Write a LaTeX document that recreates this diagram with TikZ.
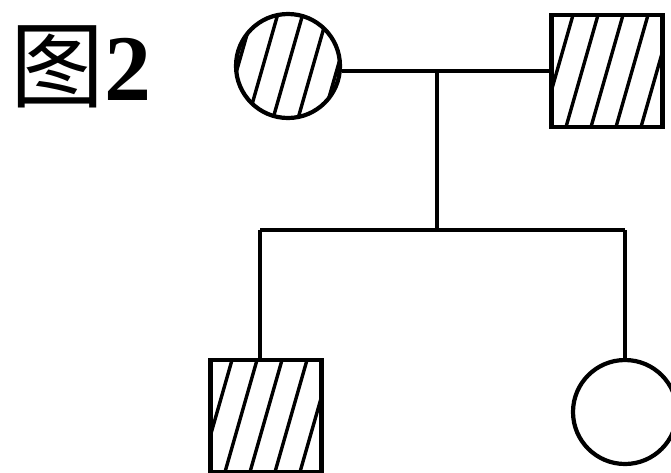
\documentclass[tikz,border=0pt]{standalone}
\usepackage{fontspec}
\setmainfont{Liberation Serif}
\newfontfamily\cjk{Noto Sans CJK SC}
\begin{document}
\begin{tikzpicture}[x=1pt,y=-1pt,line width=4.2pt,
    female/.style={draw,circle,minimum size=104pt,inner sep=0pt},
    male/.style={draw,rectangle,minimum width=111pt,minimum height=112pt,inner sep=0pt},
    hatched/.style={path picture={
      \foreach \i in {-5,...,5}
        \draw[line width=3.4pt] ([xshift=\i*25pt-20pt,yshift=-70pt]path picture bounding box.center) -- ++(40pt,140pt);}}]
  \useasboundingbox (0,0) rectangle (671,472);
  \node (title) at (81,67) {\fontsize{94pt}{94pt}\selectfont{\cjk 图}\textbf{2}};
  \node [female,hatched] (mother) at (288,66) {};
  \node [male,hatched] (father) at (607,71) {};
  \node [male,hatched] (son) at (266,416) {};
  \node [female] (daughter) at (625,412) {};
  % marriage line and sibship
  \coordinate (mid) at (437,71);
  \coordinate (sib) at (437,230);
  \coordinate (sibL) at (260,230);
  \coordinate (sibR) at (625,230);
  \draw (mother.east |- father.west) -- (father.west);
  \draw (mid) -- (sib);
  \draw (sibL) -- (sibR);
  \draw (sibL) -- (sibL |- son.north);
  \draw (sibR) -- (daughter.north);
\end{tikzpicture}
\end{document}
